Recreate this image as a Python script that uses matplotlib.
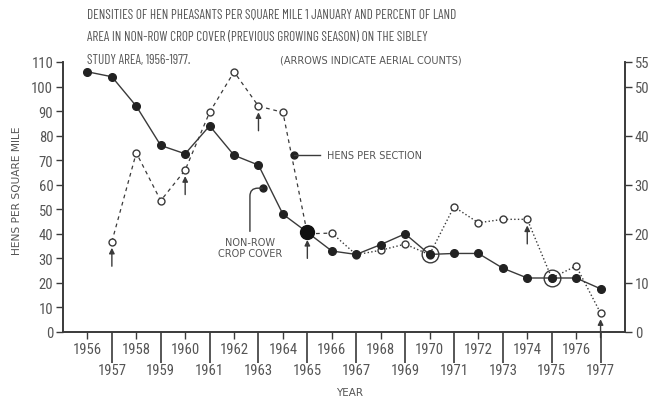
import matplotlib
matplotlib.use('Agg')
import matplotlib.pyplot as plt

fonte = ['Barlow Condensed', 'Roboto Condensed', 'DejaVu Sans']
fonte_tick = ['Roboto Condensed', 'Barlow Condensed', 'DejaVu Sans']
fonte_peq = ['DejaVu Sans']
plt.rcParams['font.family'] = fonte

# dados
anos = list(range(1956, 1978))
# cobertura nao-row (percentual, eixo direito) - linha cheia
cobertura = [53, 52, 46, 38, 36.3, 42, 36, 34, 24, 20.3, 16.5, 15.8,
             17.8, 20, 15.8, 16, 16, 13, 11, 11, 11, 8.8]
# galinhas por milha quadrada (eixo esquerdo) - linha tracejada
anos_hens = list(range(1957, 1978))
hens = [36.8, 73, 53.5, 66, 89.5, 106, 92, 89.5, 40, 40.3, 31.5,
        33.3, 35.8, 31.5, 51, 44.5, 45.9, 45.9, 22, 26.9, 7.7]
# contagens aereas (setas)
anos_aereos = [1957, 1960, 1963, 1965, 1974, 1977]

cor = '#3a3a3a'
cor_txt = '#555555'

fig = plt.figure(figsize=(6.56, 4.02), dpi=100)
ax = fig.add_axes([63/656, 1-333/402, (625-63)/656, (333-63)/402])
ax2 = ax.twinx()

ax.set_xlim(1955, 1978)
ax.set_ylim(0, 110)
ax2.set_ylim(0, 55)

# linha tracejada (hens)
i66 = anos_hens.index(1966)
ax.plot(anos_hens[:i66+1], hens[:i66+1], '--', color=cor, lw=0.9, dashes=(3, 3))
ax.plot(anos_hens[i66:], hens[i66:], ':', color=cor, lw=1.0)
ax.plot(anos_hens, hens, 'o', mfc='white', mec=cor, ms=5, mew=1.0)

# setas das contagens aereas
for a in anos_aereos:
    v = hens[anos_hens.index(a)]
    ax.annotate('', xy=(a, v - 2.5), xytext=(a, v - 10),
                arrowprops=dict(arrowstyle='-|>', color=cor, lw=1.0,
                                mutation_scale=8, shrinkA=0, shrinkB=0))

# linha cheia (cobertura)
ax2.plot(anos, cobertura, '-', color=cor, lw=1.0, marker='o', ms=5.5,
         mfc='#222222', mec='#222222')
ax2.plot([1965], [cobertura[anos.index(1965)]], 'o', color='#111111', ms=10)
for a in [1970, 1975]:
    ax2.plot([a], [cobertura[anos.index(a)]], 'o', mfc='none', mec=cor, ms=12, mew=1.0)

# rotulos
ax.plot([1964.45], [72], 'o', color='#222222', ms=5)
ax.plot([1964.45, 1965.5], [72, 72], '-', color=cor, lw=1.0)
ax.text(1965.8, 72, 'HENS PER SECTION', fontsize=7, color=cor_txt,
        va='center', ha='left', family=fonte_peq)

ax.plot([1963.2], [58.6], 'o', color='#222222', ms=5)
ax.annotate('', xy=(1963.15, 58.6), xytext=(1962.65, 41),
            arrowprops=dict(arrowstyle='-', color=cor, lw=1.0,
                            connectionstyle='angle,angleA=90,angleB=0,rad=8',
                            shrinkA=0, shrinkB=0))
ax.text(1962.65, 34.5, 'NON-ROW\nCROP COVER', fontsize=7, color=cor_txt,
        ha='center', va='center', linespacing=1.1, family=fonte_peq)

# eixos
ax.spines['top'].set_visible(False)
ax2.spines['top'].set_visible(False)
for a_ in [ax, ax2]:
    for s in a_.spines.values():
        s.set_color(cor)
        s.set_linewidth(1.2)

ax.set_yticks(range(0, 111, 10))
ax2.set_yticks([0, 10, 20, 30, 40, 50, 55])
ax.tick_params(axis='y', length=5, width=1, colors=cor, labelcolor=cor_txt,
               labelsize=10.5, pad=2)
ax2.tick_params(axis='y', length=5, width=1, colors=cor, labelcolor=cor_txt,
                labelsize=10.5, pad=2)

pares = [a for a in anos if a % 2 == 0]
impares = [a for a in anos if a % 2 == 1]
ax.set_xticks(pares)
ax.set_xticklabels([str(a) for a in pares])
ax.set_xticks(impares, minor=True)
ax.set_xticklabels([str(a) for a in impares], minor=True)
ax.tick_params(axis='x', which='major', length=5, width=1, colors=cor,
               labelcolor=cor_txt, labelsize=10.5, pad=2)
ax.tick_params(axis='x', which='minor', length=22, width=1.2, colors=cor,
               labelcolor=cor_txt, labelsize=10.5, pad=0)
for t in ax.get_xticklabels(which='both') + ax.get_yticklabels() + ax2.get_yticklabels():
    t.set_family(fonte_tick)

fig.text(17/656, 1-191/402, 'HENS PER SQUARE MILE', rotation=90,
         fontsize=7.7, color=cor_txt, ha='center', va='center', family=fonte_peq)
fig.text(350/656, 1-393/402, 'YEAR', fontsize=7.5, color=cor_txt,
         ha='center', va='center', family=fonte_peq)

titulo = ['DENSITIES OF HEN PHEASANTS PER SQUARE MILE 1 JANUARY AND PERCENT OF LAND',
          'AREA IN NON-ROW CROP COVER (PREVIOUS GROWING SEASON) ON THE SIBLEY']
fig.text(87/656, 1-15/402, titulo[0], fontsize=9.5, color=cor_txt, va='center')
fig.text(87/656, 1-38/402, titulo[1], fontsize=9.5, color=cor_txt, va='center')
fig.text(87/656, 1-60.5/402, 'STUDY AREA, 1956-1977.', fontsize=9.5,
         color=cor_txt, va='center')
fig.text(280/656, 1-60.5/402, '(ARROWS INDICATE AERIAL COUNTS)', fontsize=7,
         color=cor_txt, va='center', family=fonte_peq)

fig.savefig('out.png', dpi=100, facecolor='white')
